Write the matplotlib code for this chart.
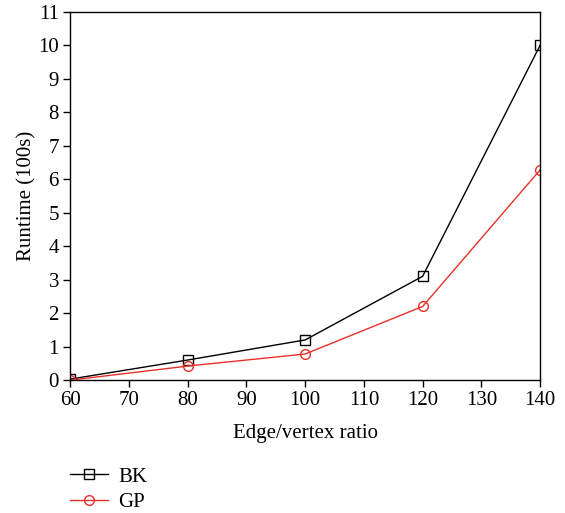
import matplotlib
matplotlib.use('Agg')
import matplotlib.pyplot as plt

# данные
ratio = [60, 80, 100, 120, 140]
bk = [0.03, 0.6, 1.2, 3.1, 10.0]
gp = [0.0, 0.42, 0.78, 2.2, 6.28]

plt.rcParams['font.family'] = ['Liberation Serif', 'DejaVu Serif']

fig = plt.figure(figsize=(5.65, 5.13), dpi=100)
ax = fig.add_axes([0.124, 0.259, 0.832, 0.718])

ax.plot(ratio, bk, color='black', lw=1, marker='s', ms=7,
        mfc='none', mec='black', mew=1, label='BK')
ax.plot(ratio, gp, color='#e8302a', lw=1, marker='o', ms=7,
        mfc='none', mec='#e8302a', mew=1, label='GP')

ax.set_xlim(60, 140)
ax.set_ylim(0, 11)
ax.set_xticks(range(60, 141, 10))
ax.set_yticks(range(0, 12))
ax.tick_params(labelsize=15, direction='out', length=5, width=1, pad=3)
ax.set_xlabel('Edge/vertex ratio', fontsize=15, labelpad=10)
ax.set_ylabel('Runtime (100s)', fontsize=15, labelpad=1)
for s in ax.spines.values():
    s.set_linewidth(1)

ax.legend(loc='upper left', bbox_to_anchor=(-0.04, -0.185), frameon=False,
          fontsize=15, handlelength=1.8, handletextpad=0.5, labelspacing=0.3)

fig.savefig('out.png', dpi=100)
